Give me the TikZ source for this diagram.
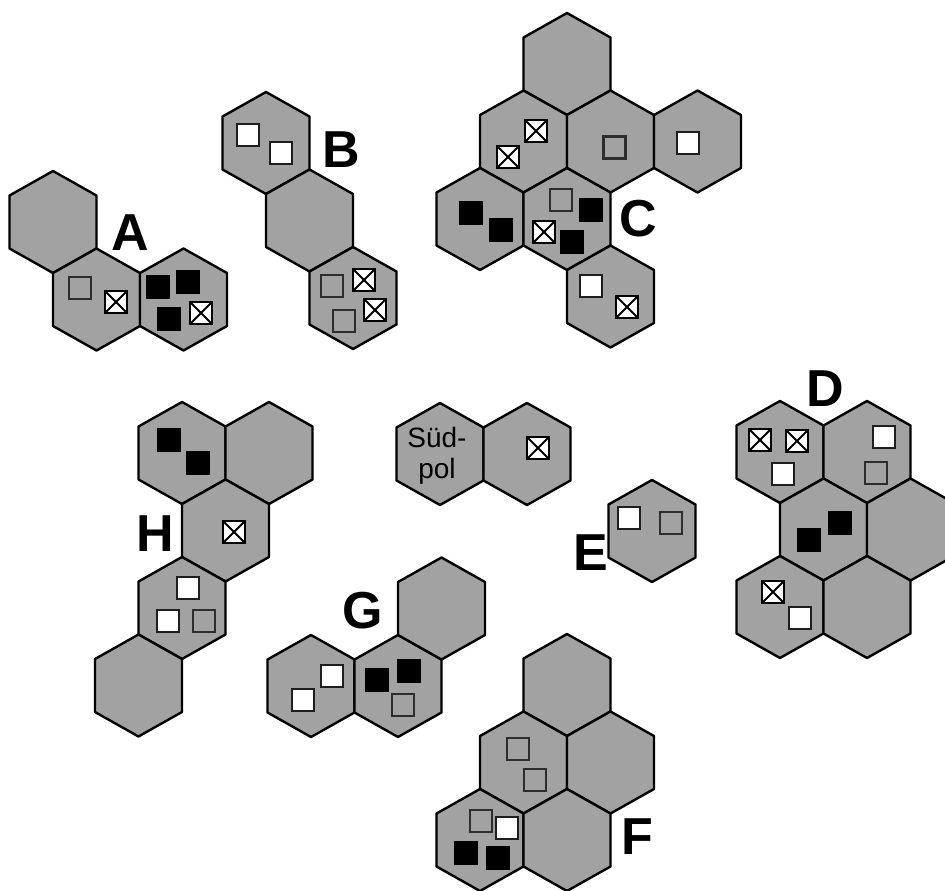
\documentclass[tikz,border=0pt]{standalone}
\usepackage{fontspec}
\setmainfont{Liberation Sans}
\definecolor{hexgray}{RGB}{162,162,162}
\definecolor{sqedge}{RGB}{30,30,30}
\definecolor{gsqedge}{RGB}{45,45,45}
\tikzset{
  hexcell/.style={draw=black,fill=hexgray,line width=2.4pt,line join=round},
  sqbase/.style={minimum size=22pt,inner sep=0pt,outer sep=0pt,line width=1.8pt},
  wsq/.style={sqbase,draw=sqedge,fill=white,line width=2.3pt},
  gsq/.style={sqbase,draw=gsqedge,fill=hexgray,line width=2.4pt},
  bsq/.style={sqbase,draw=black,fill=black},
  xsq/.style={sqbase,draw=black,fill=white,line width=2.4pt,
    path picture={\draw[line width=1.8pt] (path picture bounding box.north west) -- (path picture bounding box.south east)
      (path picture bounding box.north east) -- (path picture bounding box.south west);}},
  grouplabel/.style={font=\bfseries\fontsize{52}{52}\selectfont,inner sep=0pt},
  poltext/.style={font=\fontsize{28}{31}\selectfont,inner sep=0pt,align=center}
}
\newcommand\hexat[2]{\draw[hexcell] (#1,#2) ++(0,-51) -- ++(43.5,24.5) -- ++(0,53) -- ++(-43.5,24.5) -- ++(-43.5,-24.5) -- ++(0,-53) -- cycle;}
\begin{document}
\begin{tikzpicture}[x=1pt,y=-1pt]
\useasboundingbox (0,0) rectangle (945,891);
\clip (0,0) rectangle (945,891);
% ---- A
\hexat{53}{222}\hexat{96.5}{299.5}\hexat{183.5}{299.5}
\node[grouplabel] (lA) at (130,233) {A};
\node[gsq] (a1) at (80,288) {};
\node[xsq] (a2) at (116,302) {};
\node[bsq] (a3) at (158,287) {};
\node[bsq] (a4) at (188,282) {};
\node[bsq] (a5) at (169,319) {};
\node[xsq] (a6) at (201,313) {};
% ---- B
\hexat{266}{143}\hexat{309.5}{220.5}\hexat{353}{298}
\node[grouplabel] (lB) at (341,150) {B};
\node[wsq] (b1) at (248,135) {};
\node[wsq] (b2) at (281,153) {};
\node[gsq] (b3) at (332,286) {};
\node[xsq] (b4) at (364,280) {};
\node[xsq] (b5) at (375,310) {};
\node[gsq] (b6) at (344,321) {};
% ---- C
\hexat{567}{64}\hexat{523.5}{141.5}\hexat{610.5}{141.5}\hexat{697.5}{141.5}
\hexat{480}{219}\hexat{567}{219}\hexat{610.5}{296.5}
\node[grouplabel] (lC) at (638,219) {C};
\node[xsq] (c1) at (536,131) {};
\node[xsq] (c2) at (508,157) {};
\node[gsq,line width=3pt] (c3) at (614,147) {};
\node[wsq] (c4) at (688,143) {};
\node[bsq] (c5) at (471,213) {};
\node[bsq] (c6) at (501,230) {};
\node[gsq] (c7) at (561,200) {};
\node[bsq] (c8) at (591,210) {};
\node[xsq] (c9) at (544,232) {};
\node[bsq] (c10) at (572,242) {};
\node[wsq] (c11) at (591,286) {};
\node[xsq] (c12) at (627,307) {};
% ---- H
\hexat{182}{453}\hexat{269}{453}\hexat{225.5}{530.5}\hexat{182}{608}\hexat{138.5}{685.5}
\node[grouplabel] (lH) at (155,534) {H};
\node[bsq] (h1) at (169,440) {};
\node[bsq] (h2) at (198,463) {};
\node[xsq] (h3) at (234,532) {};
\node[wsq] (h4) at (188,588) {};
\node[wsq] (h5) at (168,621) {};
\node[gsq] (h6) at (204,621) {};
% ---- Suedpol
\hexat{440}{454}\hexat{527}{454}
\node[poltext] (sp) at (437,456) {Süd-\\pol};
\node[xsq] (s1) at (538,448) {};
% ---- E
\hexat{652}{531}
\node[grouplabel] (lE) at (591,553) {E};
\node[wsq] (e1) at (629,518) {};
\node[gsq] (e2) at (671,523) {};
% ---- D
\hexat{780}{452}\hexat{867}{452}\hexat{823.5}{529.5}\hexat{910.5}{529.5}\hexat{780}{607}\hexat{867}{607}
\node[grouplabel] (lD) at (825,389) {D};
\node[xsq] (d1) at (760,440) {};
\node[xsq] (d2) at (797,441) {};
\node[wsq] (d3) at (783,474) {};
\node[wsq] (d4) at (884,437) {};
\node[gsq] (d5) at (876,473) {};
\node[bsq] (d6) at (840,523) {};
\node[bsq] (d7) at (809,540) {};
\node[xsq] (d8) at (773,592) {};
\node[wsq] (d9) at (800,618) {};
% ---- G
\hexat{311}{686}\hexat{398}{686}\hexat{441.5}{608.5}
\node[grouplabel] (lG) at (363,611) {G};
\node[wsq] (g1) at (332,676) {};
\node[wsq] (g2) at (303,700) {};
\node[bsq] (g3) at (377,680) {};
\node[bsq] (g4) at (409,671) {};
\node[gsq] (g5) at (403,705) {};
% ---- F
\hexat{567}{685}\hexat{523.5}{762.5}\hexat{610.5}{762.5}\hexat{480}{840}\hexat{567}{840}
\node[grouplabel] (lF) at (637,837) {F};
\node[gsq] (f1) at (518,749) {};
\node[gsq] (f2) at (535,780) {};
\node[gsq] (f3) at (481,821) {};
\node[wsq] (f4) at (507,828) {};
\node[bsq] (f5) at (466,853) {};
\node[bsq] (f6) at (498,858) {};
\end{tikzpicture}
\end{document}
